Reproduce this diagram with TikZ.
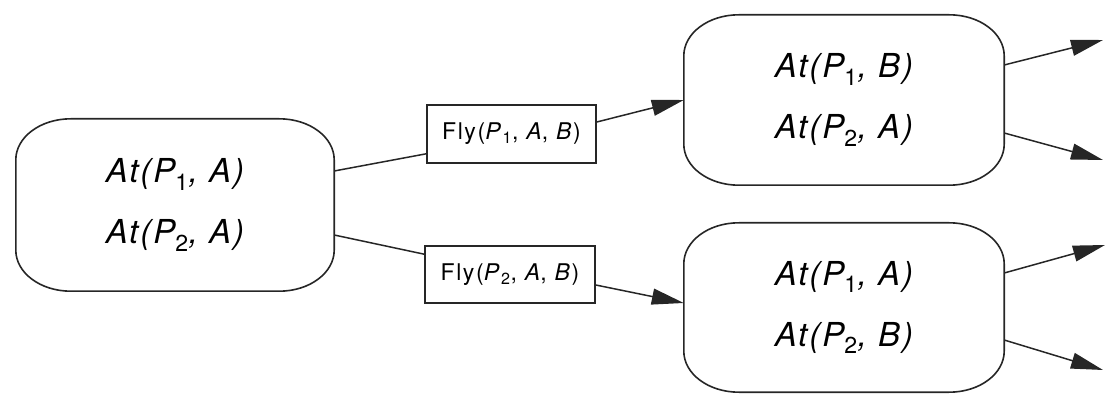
\documentclass[tikz,border=0pt]{standalone}
\usepackage{fontspec}
\setmainfont{TeX Gyre Heros}
\usetikzlibrary{arrows.meta}

% outline of a state: a box whose corners are quarter ellipses
\newcommand{\stateoutline}[1]{%
  \draw[stateline] ([xshift=55pt]#1.north west) -- ([xshift=-55pt]#1.north east)
    arc[start angle=90,end angle=0,x radius=55pt,y radius=41pt]
    -- ([yshift=41pt]#1.south east)
    arc[start angle=0,end angle=-90,x radius=55pt,y radius=41pt]
    -- ([xshift=55pt]#1.south west)
    arc[start angle=270,end angle=180,x radius=55pt,y radius=41pt]
    -- ([yshift=-41pt]#1.north west)
    arc[start angle=180,end angle=90,x radius=55pt,y radius=41pt] -- cycle;}

\newcommand{\statefont}{\fontsize{33}{61}\selectfont\itshape\addfontfeatures{LetterSpace=6}}
\newcommand{\actionfont}{\fontsize{23}{27}\selectfont\addfontfeatures{LetterSpace=7}}
% upright index below the line
\newcommand{\idx}[1]{\textsubscript{\upshape #1}}

\begin{document}
\begin{tikzpicture}[x=1pt,y=1pt,
  state/.style={minimum width=318pt,minimum height=172pt,inner sep=0pt,
    align=center,font=\statefont},
  stateline/.style={line width=1.6pt,draw=black!85},
  action/.style={draw=black!85,line width=1.6pt,minimum width=169pt,
    minimum height=58pt,inner sep=0pt,font=\actionfont},
  link/.style={line width=1.5pt,draw=black!85},
  arrowlink/.style={link,-{Triangle[length=32pt,width=16pt]}}]
  \useasboundingbox (0,0) rectangle (1112,-398);

  % states
  \node[state] (s0) at (175,-205) {At(P\idx{1}, A)\\At(P\idx{2}, A)};
  \node[state,minimum width=320pt,minimum height=170pt] (s1) at (844,-100)
    {At(P\idx{1}, B)\\At(P\idx{2}, A)};
  \node[state,minimum width=320pt,minimum height=169pt] (s2) at (844,-307.5)
    {At(P\idx{1}, A)\\At(P\idx{2}, B)};
  \stateoutline{s0}
  \stateoutline{s1}
  \stateoutline{s2}

  % actions
  \node[action] (f1) at (511.5,-134)
    {Fly(\textit{P}\idx{1}, \textit{A}, \textit{B})};
  \node[action,minimum width=170pt,minimum height=57pt] (f2) at (510,-274.5)
    {Fly(\textit{P}\idx{2}, \textit{A}, \textit{B})};

  % loose ends of the outgoing arrows
  \coordinate (o1) at (1103,-40);
  \coordinate (o2) at (1103,-160);
  \coordinate (o3) at (1105,-245);
  \coordinate (o4) at (1103,-370);

  % connectors
  \draw[link] ([yshift=34pt]s0.east) -- ([yshift=10pt]f1.south west);
  \draw[arrowlink] ([yshift=12pt]f1.east) -- (s1.west);
  \draw[link] ([yshift=-30pt]s0.east) -- ([yshift=-9pt]f2.north west);
  \draw[arrowlink] ([yshift=-10.5pt]f2.east) -- ([yshift=4.5pt]s2.west);
  \draw[arrowlink] ([yshift=35pt]s1.east) -- (o1);
  \draw[arrowlink] ([yshift=-33pt]s1.east) -- (o2);
  \draw[arrowlink] ([yshift=34.5pt]s2.east) -- (o3);
  \draw[arrowlink] ([yshift=-32.5pt]s2.east) -- (o4);
\end{tikzpicture}
\end{document}
